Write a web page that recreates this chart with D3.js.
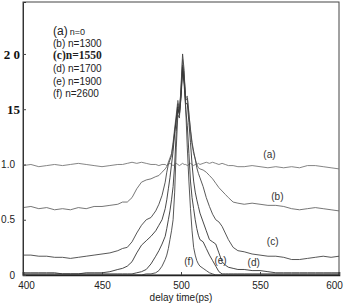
<!DOCTYPE html>
<html><head><meta charset="utf-8">
<script src="https://cdn.jsdelivr.net/npm/d3@7"></script>
<style>body{margin:0;background:#fff}svg{display:block}</style>
</head><body>
<svg id="c" width="347" height="304"></svg>
<script>
// delay time (ps)
const delay = [400,405,410,415,420,425,430,435,440,445,450,455,460,463,466,469,472,475,478,481,484,486,488,
  490,491,492,493,494,495,496,497,498,499,500,501,502,503,504,505,506,507,508,509,510,511,512,
  514,516,518,520,522,524,526,528,530,533,536,540,545,550,555,560,565,570,575,580,585,590,595,600];

const seriesA = [0.99,1.00,0.98,0.99,1.00,0.99,1.00,1.01,1.00,0.99,0.98,0.99,1.00,1.00,1.01,1.02,1.01,1.02,1.01,1.00,1.00,0.99,1.00,
  1.00,0.99,1.00,1.01,1.00,0.99,1.00,1.01,1.00,0.99,1.00,1.01,1.00,1.00,0.99,1.00,1.01,1.00,0.99,1.00,1.00,1.01,1.00,
  1.01,1.02,1.01,1.02,1.01,1.00,1.01,1.00,0.99,0.99,0.98,0.98,0.99,0.98,0.97,0.98,0.97,0.98,0.97,0.99,0.99,0.98,0.97,0.96];
const seriesB = [0.61,0.62,0.60,0.61,0.59,0.60,0.59,0.61,0.60,0.62,0.62,0.63,0.64,0.66,0.66,0.70,0.78,0.84,0.86,0.87,0.89,0.90,0.93,
  0.96,0.98,1.02,1.06,1.10,1.20,1.33,1.45,1.58,1.50,1.68,1.95,1.80,1.60,1.62,1.47,1.30,1.18,1.10,1.05,1.00,0.97,0.96,
  0.95,0.93,0.90,0.87,0.83,0.79,0.76,0.73,0.70,0.66,0.65,0.64,0.65,0.64,0.63,0.63,0.62,0.60,0.59,0.60,0.61,0.60,0.59,0.58];
const seriesC = [0.18,0.18,0.17,0.17,0.16,0.16,0.15,0.16,0.17,0.18,0.19,0.20,0.22,0.24,0.25,0.30,0.38,0.45,0.50,0.52,0.58,0.64,0.72,
  0.84,0.93,1.00,1.04,1.08,1.18,1.30,1.42,1.55,1.48,1.65,1.90,1.78,1.58,1.60,1.45,1.32,1.20,1.12,1.05,0.97,0.92,0.88,
  0.80,0.70,0.62,0.55,0.50,0.48,0.44,0.38,0.32,0.25,0.22,0.21,0.19,0.18,0.17,0.17,0.16,0.14,0.14,0.15,0.16,0.17,0.16,0.17];
const seriesD = [0.02,0.02,0.02,0.02,0.02,0.01,0.01,0.01,0.02,0.02,0.02,0.03,0.05,0.06,0.08,0.12,0.20,0.27,0.31,0.35,0.40,0.45,0.50,
  0.60,0.68,0.78,0.88,1.00,1.12,1.28,1.40,1.52,1.45,1.62,1.88,1.75,1.55,1.55,1.38,1.20,1.00,0.85,0.75,0.68,0.62,0.56,
  0.48,0.40,0.32,0.30,0.28,0.20,0.12,0.09,0.07,0.06,0.05,0.05,0.04,0.04,0.03,0.02,0.02,0.02,0.02,0.02,0.02,0.02,0.02,0.02];
const seriesE = [0.01,0.01,0.01,0.01,0.01,0.01,0.01,0.01,0.01,0.01,0.01,0.01,0.01,0.01,0.01,0.01,0.02,0.03,0.05,0.10,0.17,0.22,0.28,
  0.35,0.42,0.50,0.58,0.68,0.80,1.00,1.30,1.50,1.45,1.60,1.85,1.72,1.50,1.35,1.10,0.85,0.70,0.60,0.50,0.42,0.36,0.32,
  0.30,0.24,0.18,0.13,0.08,0.03,0.01,0.01,0.01,0.01,0.01,0.01,0.01,0.01,0.01,0.01,0.01,0.01,0.01,0.01,0.01,0.01,0.01,0.01];
const seriesF = [0.00,0.00,0.00,0.00,0.00,0.00,0.00,0.00,0.00,0.00,0.00,0.00,0.00,0.00,0.00,0.00,0.00,0.00,0.01,0.01,0.02,0.04,0.08,
  0.14,0.18,0.24,0.32,0.40,0.50,0.75,1.15,1.45,1.42,1.70,2.00,1.85,1.50,1.15,0.85,0.60,0.40,0.25,0.18,0.13,0.10,0.08,
  0.06,0.04,0.02,0.01,0.00,0.00,0.00,0.00,0.00,0.00,0.00,0.00,0.00,0.00,0.00,0.00,0.00,0.00,0.00,0.00,0.00,0.00,0.00,0.00];

const seriesNames = ["(a)","(b)","(c)","(d)","(e)","(f)"];
const seriesValues = [seriesA, seriesB, seriesC, seriesD, seriesE, seriesF];
// curve annotation anchor points in data space
const labelDelay = [556, 561, 558, 546, 525, 505];
const labelValue = [1.09, 0.71, 0.30, 0.11, 0.135, 0.12];

const legendKeys = ["(a)","(b)","(c)","(d)","(e)","(f)"];
const legendText = ["n=0","n=1300","n=1550","n=1700","n=1900","n=2600"];

const xTicks = [400,450,500,550,600];
const yTicks = [0,0.5,1.0,1.5,2.0];
const yTickLabels = ["0","0.5","1.0","15","2 0"];
const xTitle = "delay time(ps)";

const svg = d3.select("#c");
const L = 23, R = 339, T = 2, B = 275;
const x = d3.scaleLinear().domain([400,600]).range([L,R]);
const y = d3.scaleLinear().domain([0,2.47]).range([B,T]);

// frame
svg.append("rect").attr("x",L).attr("y",T).attr("width",R-L).attr("height",B-T)
  .attr("fill","none").attr("stroke","#444").attr("stroke-width",1);

// curves
const line = d3.line().x((d,i)=>x(delay[i])).y(d=>y(d));
const strokes = ["#777","#666","#444","#333","#333","#444"];
seriesValues.forEach((vals,k)=>{
  svg.append("path").datum(vals).attr("d",line)
    .attr("fill","none").attr("stroke",strokes[k]).attr("stroke-width",0.9)
    .attr("stroke-linejoin","round");
});

// x axis
const xa = svg.append("g").attr("transform",`translate(0,${B})`)
  .call(d3.axisBottom(x).tickValues(xTicks).tickSize(-3).tickPadding(7).tickFormat(d3.format("d")));
xa.select(".domain").attr("stroke","#222").attr("stroke-width",1.6);
xa.selectAll("line").attr("stroke","#444");
xa.selectAll("text").attr("font-family","Liberation Sans, Arial, sans-serif").attr("font-size",10).attr("fill","#222")
  .attr("dx",(d,i)=> i===0 ? 3 : (i===xTicks.length-1 ? -5 : 0));

// y axis
const ya = svg.append("g").attr("transform",`translate(${L},0)`)
  .call(d3.axisLeft(y).tickValues(yTicks).tickSize(-3).tickPadding(7).tickFormat((d,i)=>yTickLabels[i]));
ya.select(".domain").attr("stroke","#333").attr("stroke-width",1);
ya.selectAll("line").attr("stroke","#444");
ya.selectAll("text").each(function(d,i){
  const t = d3.select(this);
  if (d >= 1.5) {
    t.attr("font-family","Liberation Serif, Times New Roman, serif").attr("font-weight","bold")
     .attr("font-size",13).attr("x",-3).attr("fill","#111");
  } else {
    t.attr("font-family","Liberation Sans, Arial, sans-serif").attr("font-size",10).attr("x",-8).attr("fill","#222");
  }
});

// x title
svg.append("text").attr("x",x(500)).attr("y",301).attr("text-anchor","middle")
  .attr("font-family","Liberation Sans, Arial, sans-serif").attr("font-size",10).attr("fill","#222").text(xTitle);

// curve labels
seriesNames.forEach((n,k)=>{
  svg.append("text").attr("x",x(labelDelay[k])).attr("y",y(labelValue[k])).attr("dy","0.35em")
    .attr("text-anchor","middle").attr("font-family","Liberation Sans, Arial, sans-serif")
    .attr("font-size",10).attr("fill","#333").text(n);
});

// legend
const base = [35,47,59,72,84.5,97];
legendKeys.forEach((k,i)=>{
  const t = svg.append("text").attr("x",53).attr("y",base[i]).attr("fill","#222");
  if (i===0) {
    t.attr("font-family","Liberation Sans, Arial, sans-serif");
    t.append("tspan").attr("font-size",12).text(k);
    t.append("tspan").attr("font-size",9).attr("dx",2).text(legendText[i]);
  } else if (i===2) {
    t.attr("font-family","Liberation Serif, Times New Roman, serif").attr("font-weight","bold")
     .attr("font-size",11.5).text(k + legendText[i]);
  } else {
    t.attr("font-family","Liberation Sans, Arial, sans-serif").attr("font-size",10)
     .text(k + " " + legendText[i]);
  }
});
</script>
</body></html>
